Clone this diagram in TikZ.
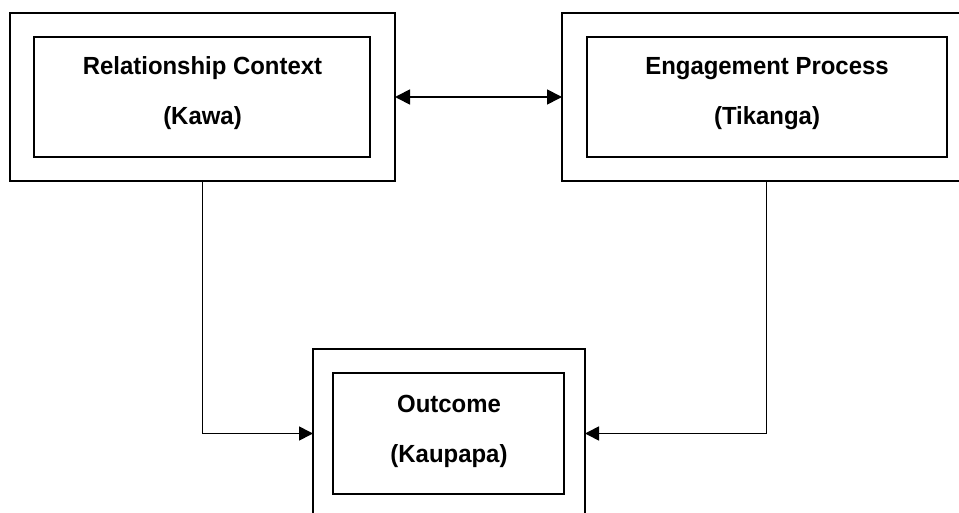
\documentclass[tikz,border=0pt]{standalone}
\usepackage{fontspec}
\setmainfont{Liberation Sans}
\newfontfamily\lblfont[FakeStretch=0.965]{Liberation Sans}
\usetikzlibrary{arrows.meta}
\tikzset{
  box/.style={draw=black, line width=1.6pt, rectangle, inner sep=0pt, outer sep=0pt},
  lbl/.style={anchor=base, inner sep=0pt, font=\lblfont\fontsize{24.8}{28}\selectfont\bfseries},
  conn/.style={draw=black, line width=1.7pt},
  tipB/.style={{Triangle[length=15pt,width=15pt]}-{Triangle[length=15pt,width=15pt]}},
  tipC/.style={-{Triangle[length=14pt,width=14pt]}}
}
\begin{document}
\begin{tikzpicture}[x=1pt,y=-1pt]
\useasboundingbox (0,0) rectangle (959,513);
\begin{scope}
\clip (0,0) rectangle (959,513);
% outer boxes
\node[box, minimum width=385pt, minimum height=168pt] (relO) at (202.5,97) {};
\node[box, minimum width=409pt, minimum height=168pt] (engO) at (766.5,97) {};
\node[box, minimum width=272pt, minimum height=169pt] (outO) at (449,433.5) {};
% inner boxes
\node[box, minimum width=336pt, minimum height=120pt] (relI) at (202,97) {};
\node[box, minimum width=360pt, minimum height=120pt] (engI) at (767,97) {};
\node[box, minimum width=231pt, minimum height=121pt] (outI) at (448.5,433.5) {};
\end{scope}
% labels
\node[lbl] (relT1) at (202.5,75) {Relationship Context};
\node[lbl] (relT2) at (202.5,125) {(Kawa)};
\node[lbl] (engT1) at (767,75) {Engagement Process};
\node[lbl] (engT2) at (767,125) {(Tikanga)};
\node[lbl] (outT1) at (449,412) {Outcome};
\node[lbl] (outT2) at (449,462) {(Kaupapa)};
% connectors
\draw[conn, tipB] (relO.east) -- (engO.west);
\draw[conn, tipC] (relO.south) |- (outO.west);
\draw[conn, tipC] (engO.south) |- (outO.east);
\end{tikzpicture}
\end{document}
